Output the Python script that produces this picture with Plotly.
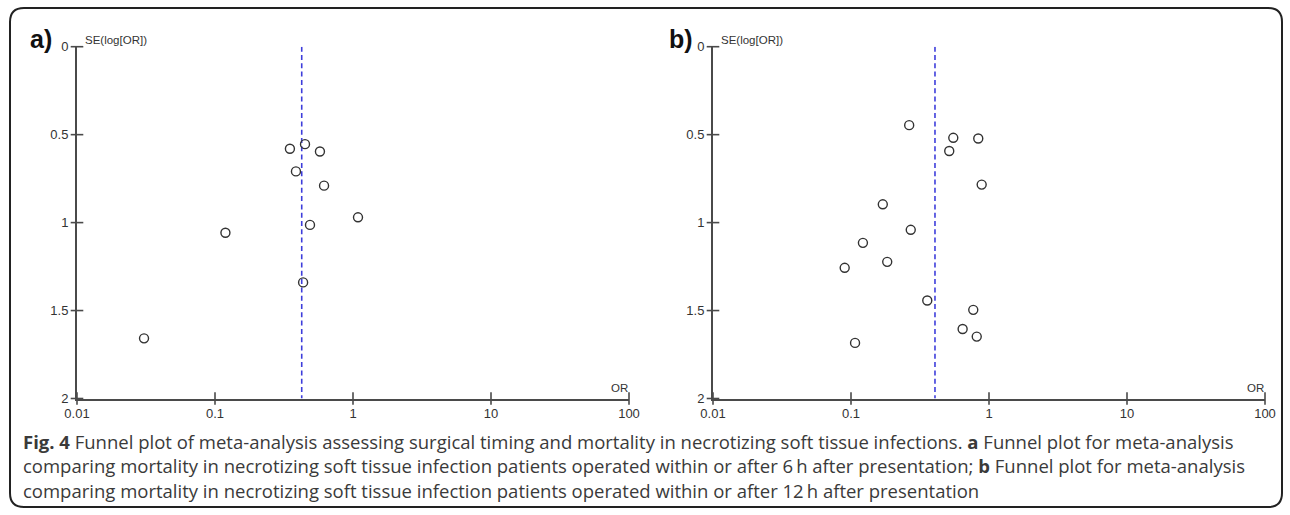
import plotly.graph_objects as go

# ---------------- data ----------------
a_or = [0.349, 0.449, 0.576, 0.386, 0.617, 1.087, 0.488, 0.435, 0.119, 0.0306]
a_se = [0.580, 0.554, 0.596, 0.709, 0.790, 0.970, 1.013, 1.340, 1.058, 1.658]
a_pooled = 0.425

b_or = [0.264, 0.551, 0.515, 0.836, 0.885, 0.769, 0.644, 0.815, 0.170, 0.271,
        0.122, 0.090, 0.183, 0.357, 0.107]
b_se = [0.446, 0.518, 0.593, 0.522, 0.784, 1.496, 1.605, 1.648, 0.896, 1.041,
        1.115, 1.257, 1.223, 1.443, 1.684]
b_pooled = 0.406

x_tickvals = [0.01, 0.1, 1, 10, 100]
x_ticktext = ["0.01", "0.1", "1", "10", "100"]
y_tickvals = [0, 0.5, 1, 1.5, 2]
y_ticktext = ["0", "0.5", "1", "1.5", "2"]
se_range = [0, 2]

W, H = 1290, 515


def px(x):
    return x / W


def py(y):
    return 1 - y / H


AX = "#4a4a4a"
TXT = "#333333"
FONT = "Liberation Sans, Arial, sans-serif"
CAPFONT = "Open Sans, sans-serif"

fig = go.Figure()

panels = [
    (a_or, a_se, a_pooled, "x", "y"),
    (b_or, b_se, b_pooled, "x2", "y2"),
]
for orv, sev, pooled, xa, ya in panels:
    # crossing tick marks on both axes (drawn at the tick values)
    fig.add_trace(go.Scatter(
        x=x_tickvals, y=[se_range[1]] * len(x_tickvals), mode="markers",
        marker=dict(symbol="line-ns", size=9, line=dict(width=1.6, color=AX)),
        cliponaxis=False, xaxis=xa, yaxis=ya, showlegend=False, hoverinfo="skip"))
    fig.add_trace(go.Scatter(
        x=[x_tickvals[0]] * len(y_tickvals), y=y_tickvals, mode="markers",
        marker=dict(symbol="line-ew", size=9, line=dict(width=1.6, color=AX)),
        cliponaxis=False, xaxis=xa, yaxis=ya, showlegend=False, hoverinfo="skip"))
    fig.add_trace(go.Scatter(
        x=[pooled, pooled], y=se_range, mode="lines",
        line=dict(color="#3d3ddb", width=1.6, dash="5px,3.3px"),
        xaxis=xa, yaxis=ya, showlegend=False, hoverinfo="skip"))
    fig.add_trace(go.Scatter(
        x=orv, y=sev, mode="markers",
        marker=dict(symbol="circle-open", size=9, color="#333333",
                    line=dict(width=1.4, color="#333333")),
        xaxis=xa, yaxis=ya, showlegend=False))

xdom_a = [px(77), px(629)]
xdom_b = [px(713), px(1265)]
ydom = [py(398.5), py(46.7)]


def xaxis(dom, anchor):
    return dict(type="log", range=[-2, 2], domain=dom, anchor=anchor,
                tickvals=x_tickvals, ticktext=x_ticktext, automargin=False,
                showgrid=False, zeroline=False,
                tickfont=dict(family=FONT, size=13, color=TXT),
                ticks="outside", tickcolor="rgba(0,0,0,0)", ticklen=2,
                showline=True, linecolor=AX, linewidth=2)


def yaxis(anchor):
    return dict(range=[2, 0], domain=ydom, anchor=anchor,
                tickvals=y_tickvals, ticktext=y_ticktext, automargin=False,
                showgrid=False, zeroline=False,
                tickfont=dict(family=FONT, size=13, color=TXT),
                ticks="outside", tickcolor="rgba(0,0,0,0)", ticklen=4,
                showline=True, linecolor=AX, linewidth=2)


fig.update_layout(
    template="none",
    width=W, height=H, autosize=False, showlegend=False,
    margin=dict(l=0, r=0, t=0, b=0, pad=0, autoexpand=False),
    paper_bgcolor="white", plot_bgcolor="rgba(0,0,0,0)",
    xaxis=xaxis(xdom_a, "y"),
    yaxis=yaxis("x"),
    xaxis2=xaxis(xdom_b, "y2"),
    yaxis2=yaxis("x2"),
)

# rounded outer frame
x0, y0, x1, y1, r = px(10), py(8), px(1282), py(507), 14
rx, ry = r / W, r / H
path = (f"M {x0+rx},{y0} L {x1-rx},{y0} Q {x1},{y0} {x1},{y0-ry} "
        f"L {x1},{y1+ry} Q {x1},{y1} {x1-rx},{y1} "
        f"L {x0+rx},{y1} Q {x0},{y1} {x0},{y1+ry} "
        f"L {x0},{y0-ry} Q {x0},{y0} {x0+rx},{y0} Z")
fig.add_shape(type="path", path=path, xref="paper", yref="paper",
              line=dict(color="#222222", width=2))

ann = []


def note(x, y, text, size, color=TXT, xanchor="left", family=FONT):
    ann.append(dict(x=px(x), y=py(y), xref="paper", yref="paper", text=text,
                    showarrow=False, xanchor=xanchor, yanchor="middle",
                    font=dict(family=family, size=size, color=color)))


# panel letters
note(28, 39, "<b>a)</b>", 25, "#111111")
note(667, 39, "<b>b)</b>", 25, "#111111")
# axis titles
for xl, xor in [(83, 619), (719, 1255)]:
    note(xl, 40, "SE(log[OR])", 11.5)
    note(xor, 388, "OR", 11.5, xanchor="center")

# caption
cap = [
    "<b>Fig. 4</b> Funnel plot of meta-analysis assessing surgical timing and mortality in necrotizing soft tissue infections. "
    "<b>a</b> Funnel plot for meta-analysis",
    "comparing mortality in necrotizing soft tissue infection patients operated within or after 6\u2009h after presentation; "
    "<b>b</b> Funnel plot for meta-analysis",
    "comparing mortality in necrotizing soft tissue infection patients operated within or after 12\u2009h after presentation",
]
for i, line in enumerate(cap):
    note(21, 441 + 24.5 * i, line, 18.5, "#3a3a3a", family=CAPFONT)

fig.update_layout(annotations=ann)

fig.write_html("out.html")
